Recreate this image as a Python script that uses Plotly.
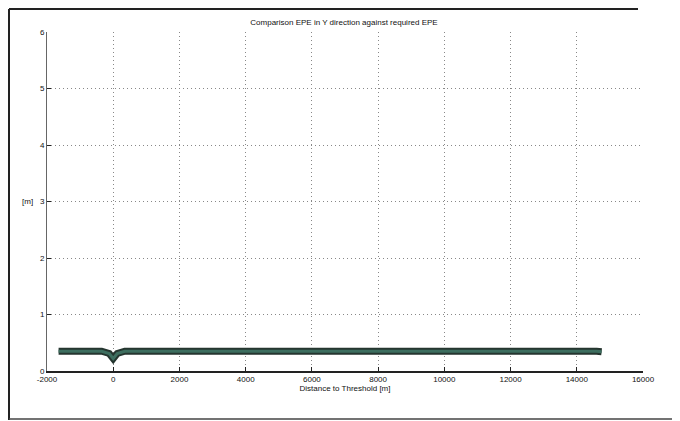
import plotly.graph_objects as go

# Data
distance = [-1650, -350, -120, 0, 120, 350, 14600, 14750]
epe_y = [0.35, 0.35, 0.31, 0.22, 0.31, 0.35, 0.35, 0.34]
title_text = "Comparison EPE in Y direction against required EPE"
x_title = "Distance to Threshold [m]"
y_title = "[m]"
x_ticks = [-2000, 0, 2000, 4000, 6000, 8000, 10000, 12000, 14000, 16000]
y_ticks = [0, 1, 2, 3, 4, 5, 6]

fig = go.Figure()
fig.add_trace(go.Scatter(x=distance, y=epe_y, mode="lines",
                         line=dict(color="#25352f", width=7), hoverinfo="skip"))
fig.add_trace(go.Scatter(x=distance, y=epe_y, mode="lines",
                         line=dict(color="#3d6e5f", width=3)))

font = "Liberation Sans, Arial, sans-serif"
# The page body has an 8px margin, so the figure is shifted by 8px; compensate.
W, H = 672, 413
L, T = 39, 24
R, B = 37, 50
fig.update_layout(
    width=W, height=H,
    margin=dict(l=L, r=R, t=T, b=B),
    paper_bgcolor="white", plot_bgcolor="white",
    showlegend=False,
    title=dict(text=title_text, x=0.5, xanchor="center", y=1 - 14/H, yanchor="middle",
               font=dict(family=font, size=8, color="#111")),
    font=dict(family=font, size=8, color="#111"),
)
fig.update_xaxes(range=[-2000, 16000], tickvals=x_ticks, ticktext=[str(v) for v in x_ticks],
                 showgrid=True, gridcolor="#888", griddash="1px,3px", gridwidth=1,
                 showline=True, linecolor="#222", linewidth=1.5,
                 ticks="inside", ticklen=4, tickcolor="#222", zeroline=False,
                 title=dict(text=x_title, standoff=2, font=dict(size=8)),
                 tickfont=dict(size=8, color="#111"))
fig.update_yaxes(range=[0, 6], tickvals=y_ticks,
                 showgrid=True, gridcolor="#888", griddash="1px,3px", gridwidth=1,
                 showline=True, linecolor="#666", linewidth=1,
                 ticks="inside", ticklen=4, tickcolor="#222", zeroline=False,
                 tickfont=dict(size=8, color="#111"))
fig.add_annotation(text=y_title, xref="paper", yref="y", x=-0.02, y=3, xanchor="right",
                   showarrow=False, font=dict(size=8, family=font))

# page frame (scanned document border), in figure pixel coords
pw, ph = W - L - R, H - T - B
def px(x): return (x - L) / pw
def py(y): return (H - B - y) / ph
fig.add_shape(type="line", xref="paper", yref="paper", x0=px(1), x1=px(1), y0=py(H - 1), y1=py(1),
              line=dict(color="#222", width=2))
fig.add_shape(type="line", xref="paper", yref="paper", x0=px(1), x1=px(630), y0=py(1), y1=py(1),
              line=dict(color="#222", width=2))
fig.add_shape(type="line", xref="paper", yref="paper", x0=px(1), x1=px(668), y0=py(H - 2), y1=py(H - 2),
              line=dict(color="#444", width=1.5))
fig.add_shape(type="line", xref="paper", yref="paper", x0=px(668), x1=px(668), y0=py(H - 2), y1=py(1),
              line=dict(color="#ddd", width=1))

fig.write_html("out.html")
